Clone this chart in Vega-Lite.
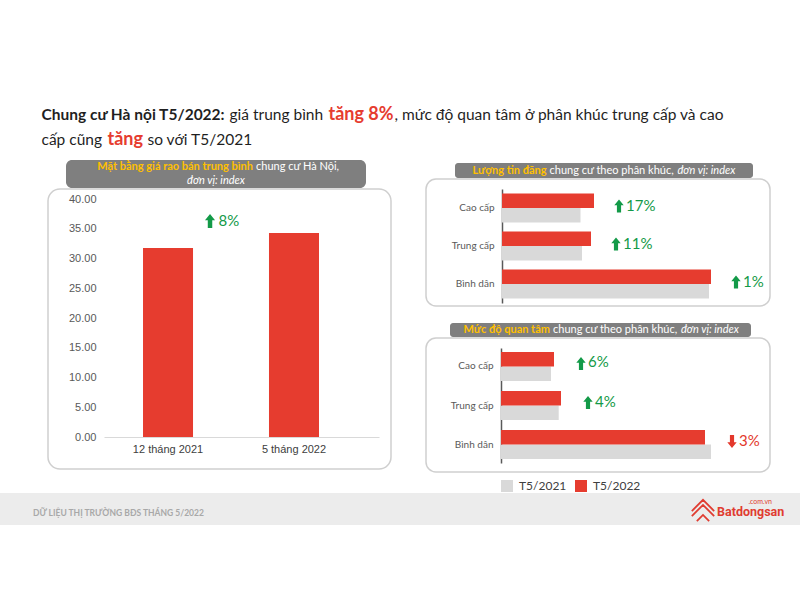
{
  "$schema": "https://vega.github.io/schema/vega-lite/v6.json",
  "background": "white",
  "padding": {"left": 0, "top": 103, "right": 0, "bottom": 0},
  "config": {
    "view": {"stroke": null},
    "font": "Lato",
    "text": {"baseline": "middle"},
    "legend": {"padding": 0},
    "axis": {"grid": false}
  },
  "datasets": {
    "price": [
      {"period": "12 tháng 2021", "value": 31.76},
      {"period": "5 tháng 2022", "value": 34.29}
    ],
    "priceNote": [
      {"period": "12 tháng 2021", "value": 36.3, "change": "8%", "dir": "up"}
    ],
    "listings": [
      {"seg": "Cao cấp", "year": "T5/2021", "value": 78.5},
      {"seg": "Cao cấp", "year": "T5/2022", "value": 92},
      {"seg": "Trung cấp", "year": "T5/2021", "value": 80},
      {"seg": "Trung cấp", "year": "T5/2022", "value": 89},
      {"seg": "Bình dân", "year": "T5/2021", "value": 207},
      {"seg": "Bình dân", "year": "T5/2022", "value": 209}
    ],
    "listingsNote": [
      {"seg": "Cao cấp", "v2022": 92, "change": "17%", "dir": "up"},
      {"seg": "Trung cấp", "v2022": 89, "change": "11%", "dir": "up"},
      {"seg": "Bình dân", "v2022": 209, "change": "1%", "dir": "up"}
    ],
    "interest": [
      {"seg": "Cao cấp", "year": "T5/2021", "value": 50},
      {"seg": "Cao cấp", "year": "T5/2022", "value": 53},
      {"seg": "Trung cấp", "year": "T5/2021", "value": 57.7},
      {"seg": "Trung cấp", "year": "T5/2022", "value": 60},
      {"seg": "Bình dân", "year": "T5/2021", "value": 210},
      {"seg": "Bình dân", "year": "T5/2022", "value": 204}
    ],
    "interestNote": [
      {"seg": "Cao cấp", "v2022": 53, "change": "6%", "dir": "up"},
      {"seg": "Trung cấp", "v2022": 60, "change": "4%", "dir": "up"},
      {"seg": "Bình dân", "v2022": 204, "change": "3%", "dir": "down"}
    ]
  },
  "vconcat": [
    {
      "spacing": 8,
      "vconcat": [
        {
          "spacing": 1,
          "vconcat": [
            {
              "spacing": 0,
              "hconcat": [
                {"width": 41, "height": 24, "data": {"values": []}, "mark": "point"},
                {"width": 1, "height": 24, "data": {"values": [{}]}, "mark": {"type": "text", "text": "Chung cư Hà nội T5/2022:", "align": "left", "font": "Lato", "fontSize": 15.5, "fontWeight": "bold", "color": "#1f1f1f"}},
                {"width": 1, "height": 24, "data": {"values": [{}]}, "mark": {"type": "text", "text": "giá trung bình", "align": "left", "dx": 3, "font": "Lato", "fontSize": 15.5, "color": "#1f1f1f"}},
                {"width": 1, "height": 24, "data": {"values": [{}]}, "mark": {"type": "text", "text": "tăng 8%", "align": "left", "dx": 4, "font": "Lato", "fontSize": 18, "fontWeight": "bold", "color": "#e63c2f"}},
                {"width": 1, "height": 24, "data": {"values": [{}]}, "mark": {"type": "text", "text": ", mức độ quan tâm ở phân khúc trung cấp và cao", "align": "left", "font": "Lato", "fontSize": 15.5, "color": "#1f1f1f"}}
              ]
            },
            {
              "spacing": 0,
              "hconcat": [
                {"width": 41, "height": 24, "data": {"values": []}, "mark": "point"},
                {"width": 1, "height": 24, "data": {"values": [{}]}, "mark": {"type": "text", "text": "cấp cũng", "align": "left", "font": "Lato", "fontSize": 15.5, "color": "#1f1f1f"}},
                {"width": 1, "height": 24, "data": {"values": [{}]}, "mark": {"type": "text", "text": "tăng", "align": "left", "dx": 4, "font": "Lato", "fontSize": 18, "fontWeight": "bold", "color": "#e63c2f"}},
                {"width": 1, "height": 24, "data": {"values": [{}]}, "mark": {"type": "text", "text": "so với T5/2021", "align": "left", "dx": 4, "font": "Lato", "fontSize": 15.5, "color": "#1f1f1f"}}
              ]
            }
          ]
        },
        {
          "spacing": 33,
          "hconcat": [
            {"width": 14, "height": 1, "data": {"values": []}, "mark": "point"},
            {
              "spacing": 0,
              "vconcat": [
                {
                  "spacing": 0,
                  "hconcat": [
                    {"width": 18, "height": 1, "data": {"values": []}, "mark": "point"},
                    {
                      "width": 300,
                      "height": 28,
                      "view": {"fill": "#7f7f7f", "stroke": null, "cornerRadius": 6},
                      "data": {"values": [{}]},
                      "layer": [
                        {"mark": {"type": "text", "text": "Mặt bằng giá rao bán trung bình", "align": "right", "dx": 37, "dy": -7, "font": "Lato", "fontSize": 11, "fontWeight": "bold", "color": "#ffc000"}},
                        {"mark": {"type": "text", "text": "chung cư Hà Nội,", "align": "left", "dx": 40, "dy": -7, "font": "Lato", "fontSize": 11, "color": "#ffffff"}},
                        {"mark": {"type": "text", "text": "đơn vị: index", "align": "center", "dy": 7, "font": "Lato", "fontSize": 11, "fontStyle": "italic", "color": "#ffffff"}}
                      ]
                    }
                  ]
                },
                {
                  "width": 343,
                  "height": 280,
                  "view": {"stroke": "#cfcfcf", "strokeWidth": 1.5, "cornerRadius": 12},
                  "encoding": {
                    "x": {"field": "period", "type": "nominal", "sort": null,
                      "scale": {"range": [56, 331], "paddingInner": 0.603, "paddingOuter": 0.393, "align": 0.394},
                      "axis": {"orient": "bottom", "offset": -32, "domainColor": "#d9d9d9", "domainWidth": 1, "ticks": false, "labelPadding": 6, "labelFont": "Liberation Sans", "labelFontSize": 11, "labelColor": "#404040", "labelAngle": 0, "title": null}},
                    "y": {"field": "value", "type": "quantitative",
                      "scale": {"domain": [0, 40], "range": [248, 10], "nice": false},
                      "axis": {"orient": "left", "offset": -49, "values": [0, 5, 10, 15, 20, 25, 30, 35, 40], "tickCount": 9, "format": ".2f", "labelOverlap": false, "domain": false, "ticks": false, "labelPadding": 1, "labelFont": "Liberation Sans", "labelFontSize": 11, "labelColor": "#595959", "title": null}}
                  },
                  "layer": [
                    {
                      "data": {"name": "price"},
                      "mark": {"type": "bar", "color": "#e63c2f"}
                    },
                    {
                      "data": {"name": "priceNote"},
                      "mark": {"type": "point", "filled": true, "size": 196, "xOffset": 42, "opacity": 1, "strokeWidth": 0},
                      "encoding": {
                        "shape": {"field": "dir", "type": "nominal", "scale": {"domain": ["up", "down"], "range": ["M0,-1 L0.72,-0.12 L0.32,-0.12 L0.32,1 L-0.32,1 L-0.32,-0.12 L-0.72,-0.12 Z", "M0,1 L0.72,0.12 L0.32,0.12 L0.32,-1 L-0.32,-1 L-0.32,0.12 L-0.72,0.12 Z"]}, "legend": null},
                        "fill": {"field": "dir", "type": "nominal", "scale": {"domain": ["up", "down"], "range": ["#139a48", "#e3382c"]}, "legend": null}
                      }
                    },
                    {
                      "data": {"name": "priceNote"},
                      "mark": {"type": "text", "align": "left", "baseline": "middle", "dx": 50.5, "font": "Lato", "fontSize": 15},
                      "encoding": {
                        "text": {"field": "change"},
                        "fill": {"field": "dir", "type": "nominal", "scale": {"domain": ["up", "down"], "range": ["#139a48", "#e3382c"]}, "legend": null}
                      }
                    }
                  ]
                }
              ]
            },
            {
              "spacing": 2,
              "vconcat": [
                {"width": 1, "height": 1, "data": {"values": []}, "mark": "point"},
                {
                  "spacing": 16,
                  "resolve": {"scale": {"color": "independent"}, "legend": {"color": "independent"}},
                  "vconcat": [
                    {
                      "spacing": 0,
                      "resolve": {"scale": {"color": "independent"}, "legend": {"color": "independent"}},
                      "vconcat": [
                        {
                          "spacing": 0,
                          "hconcat": [
                            {"width": 29, "height": 1, "data": {"values": []}, "mark": "point"},
                            {
                              "width": 298,
                              "height": 15,
                              "view": {"fill": "#7f7f7f", "stroke": null, "cornerRadius": 3},
                              "data": {"values": [{}]},
                              "layer": [
                                {"mark": {"type": "text", "text": "Lượng tin đăng", "align": "right", "dx": -57.5, "font": "Lato", "fontSize": 11, "fontWeight": "bold", "color": "#ffc000"}},
                                {"mark": {"type": "text", "text": "chung cư theo phân khúc,", "align": "left", "dx": -54.5, "font": "Lato", "fontSize": 11, "color": "#ffffff"}},
                                {"mark": {"type": "text", "text": "đơn vị: index", "align": "left", "dx": 73.5, "font": "Lato", "fontSize": 11, "fontStyle": "italic", "color": "#ffffff"}}
                              ]
                            }
                          ]
                        },
                        {
                          "width": 344,
                          "height": 127,
                          "view": {"stroke": "#cfcfcf", "strokeWidth": 1.5, "cornerRadius": 10},
                          "layer": [
                            {
                              "data": {"name": "listings"},
                              "mark": {"type": "bar"},
                              "encoding": {
                                "y": {"field": "seg", "type": "nominal",
                                  "scale": {"domain": ["Cao cấp", "Trung cấp", "Bình dân"], "range": [10, 124], "paddingInner": 0.237, "paddingOuter": 0.118},
                                  "axis": {"orient": "left", "offset": -76, "domainColor": "#595959", "domainWidth": 1.5, "ticks": false, "labelPadding": 8, "labelFont": "Lato", "labelFontSize": 10, "labelColor": "#595959", "title": null}},
                                "yOffset": {"field": "year", "type": "nominal", "scale": {"domain": ["T5/2022", "T5/2021"], "paddingInner": 0, "paddingOuter": 0}},
                                "x": {"field": "value", "type": "quantitative", "scale": {"domain": [0, 260], "range": [76, 336], "nice": false}, "axis": null},
                                "color": {"field": "year", "type": "nominal", "scale": {"domain": ["T5/2021", "T5/2022"], "range": ["#d9d9d9", "#e63c2f"]}, "legend": null}
                              }
                            },
                            {
                              "data": {"name": "listingsNote"},
                              "mark": {"type": "point", "filled": true, "size": 170, "xOffset": 25, "yOffset": -2, "opacity": 1, "strokeWidth": 0},
                              "encoding": {
                                "y": {"field": "seg", "type": "nominal", "scale": {"domain": ["Cao cấp", "Trung cấp", "Bình dân"], "range": [10, 124], "paddingInner": 0.237, "paddingOuter": 0.118}},
                                "x": {"field": "v2022", "type": "quantitative", "scale": {"domain": [0, 260], "range": [76, 336], "nice": false}},
                                "shape": {"field": "dir", "type": "nominal", "scale": {"domain": ["up", "down"], "range": ["M0,-1 L0.72,-0.12 L0.32,-0.12 L0.32,1 L-0.32,1 L-0.32,-0.12 L-0.72,-0.12 Z", "M0,1 L0.72,0.12 L0.32,0.12 L0.32,-1 L-0.32,-1 L-0.32,0.12 L-0.72,0.12 Z"]}, "legend": null},
                                "fill": {"field": "dir", "type": "nominal", "scale": {"domain": ["up", "down"], "range": ["#139a48", "#e3382c"]}, "legend": null}
                              }
                            },
                            {
                              "data": {"name": "listingsNote"},
                              "mark": {"type": "text", "align": "left", "baseline": "middle", "dx": 32, "dy": -2, "font": "Lato", "fontSize": 15},
                              "encoding": {
                                "y": {"field": "seg", "type": "nominal", "scale": {"domain": ["Cao cấp", "Trung cấp", "Bình dân"], "range": [10, 124], "paddingInner": 0.237, "paddingOuter": 0.118}},
                                "x": {"field": "v2022", "type": "quantitative", "scale": {"domain": [0, 260], "range": [76, 336], "nice": false}},
                                "text": {"field": "change"},
                                "fill": {"field": "dir", "type": "nominal", "scale": {"domain": ["up", "down"], "range": ["#139a48", "#e3382c"]}, "legend": null}
                              }
                            }
                          ]
                        }
                      ]
                    },
                    {
                      "spacing": 0,
                      "resolve": {"scale": {"color": "independent"}, "legend": {"color": "independent"}},
                      "vconcat": [
                        {
                          "spacing": 0,
                          "hconcat": [
                            {"width": 24, "height": 1, "data": {"values": []}, "mark": "point"},
                            {
                              "width": 301,
                              "height": 14,
                              "view": {"fill": "#7f7f7f", "stroke": null, "cornerRadius": 3},
                              "data": {"values": [{}]},
                              "layer": [
                                {"mark": {"type": "text", "text": "Mức độ quan tâm", "align": "right", "dx": -50.5, "font": "Lato", "fontSize": 11, "fontWeight": "bold", "color": "#ffc000"}},
                                {"mark": {"type": "text", "text": "chung cư theo phân khúc,", "align": "left", "dx": -47.5, "font": "Lato", "fontSize": 11, "color": "#ffffff"}},
                                {"mark": {"type": "text", "text": "đơn vị: index", "align": "left", "dx": 80.5, "font": "Lato", "fontSize": 11, "fontStyle": "italic", "color": "#ffffff"}}
                              ]
                            }
                          ]
                        },
                        {
                          "width": 344,
                          "height": 134,
                          "view": {"stroke": "#cfcfcf", "strokeWidth": 1.5, "cornerRadius": 10},
                          "layer": [
                            {
                              "data": {"name": "interest"},
                              "mark": {"type": "bar"},
                              "encoding": {
                                "y": {"field": "seg", "type": "nominal",
                                  "scale": {"domain": ["Cao cấp", "Trung cấp", "Bình dân"], "range": [10, 125], "paddingInner": 0.256, "paddingOuter": 0.1},
                                  "axis": {"orient": "left", "offset": -75, "domainColor": "#595959", "domainWidth": 1.5, "ticks": false, "labelPadding": 8, "labelFont": "Lato", "labelFontSize": 10, "labelColor": "#595959", "title": null}},
                                "yOffset": {"field": "year", "type": "nominal", "scale": {"domain": ["T5/2022", "T5/2021"], "paddingInner": 0, "paddingOuter": 0}},
                                "x": {"field": "value", "type": "quantitative", "scale": {"domain": [0, 260], "range": [75, 335], "nice": false}, "axis": null},
                                "color": {"field": "year", "type": "nominal", "scale": {"domain": ["T5/2021", "T5/2022"], "range": ["#d9d9d9", "#e63c2f"]},
                                  "legend": {"orient": "none", "legendX": 75, "legendY": 142, "direction": "horizontal", "title": null, "symbolType": "square", "symbolSize": 144, "symbolStrokeWidth": 0, "symbolOpacity": 1, "labelFont": "Lato", "labelFontSize": 12, "labelColor": "#404040", "columnPadding": 8, "labelOffset": 6,
                                    "encode": {"symbols": {"update": {"fill": [{"test": "datum.value === 'T5/2021'", "value": "#a6a6a6"}, {"value": "#e63c2f"}]}}}}}
                              }
                            },
                            {
                              "data": {"name": "interestNote"},
                              "mark": {"type": "point", "filled": true, "size": 170, "xOffset": 27, "yOffset": -3, "opacity": 1, "strokeWidth": 0},
                              "encoding": {
                                "y": {"field": "seg", "type": "nominal", "scale": {"domain": ["Cao cấp", "Trung cấp", "Bình dân"], "range": [10, 125], "paddingInner": 0.256, "paddingOuter": 0.1}},
                                "x": {"field": "v2022", "type": "quantitative", "scale": {"domain": [0, 260], "range": [75, 335], "nice": false}},
                                "shape": {"field": "dir", "type": "nominal", "scale": {"domain": ["up", "down"], "range": ["M0,-1 L0.72,-0.12 L0.32,-0.12 L0.32,1 L-0.32,1 L-0.32,-0.12 L-0.72,-0.12 Z", "M0,1 L0.72,0.12 L0.32,0.12 L0.32,-1 L-0.32,-1 L-0.32,0.12 L-0.72,0.12 Z"]}, "legend": null},
                                "fill": {"field": "dir", "type": "nominal", "scale": {"domain": ["up", "down"], "range": ["#139a48", "#e3382c"]}, "legend": null}
                              }
                            },
                            {
                              "data": {"name": "interestNote"},
                              "mark": {"type": "text", "align": "left", "baseline": "middle", "dx": 34, "dy": -4, "font": "Lato", "fontSize": 15},
                              "encoding": {
                                "y": {"field": "seg", "type": "nominal", "scale": {"domain": ["Cao cấp", "Trung cấp", "Bình dân"], "range": [10, 125], "paddingInner": 0.256, "paddingOuter": 0.1}},
                                "x": {"field": "v2022", "type": "quantitative", "scale": {"domain": [0, 260], "range": [75, 335], "nice": false}},
                                "text": {"field": "change"},
                                "fill": {"field": "dir", "type": "nominal", "scale": {"domain": ["up", "down"], "range": ["#139a48", "#e3382c"]}, "legend": null}
                              }
                            }
                          ]
                        }
                      ]
                    }
                  ]
                }
              ]
            }
          ]
        }
      ]
    },
    {
      "width": 800,
      "height": 32,
      "view": {"fill": "#ececec", "stroke": null},
      "data": {"values": [{}]},
      "layer": [
        {"mark": {"type": "text", "text": "DỮ LIỆU THỊ TRƯỜNG BĐS THÁNG 5/2022", "align": "left", "dx": -367, "dy": 3.5, "font": "Lato", "fontSize": 8.5, "fontWeight": "bold", "color": "#a8a8a8"}},
        {"mark": {"type": "text", "text": "Batdongsan", "align": "left", "dx": 317, "dy": 3, "font": "Roboto", "fontSize": 12.5, "fontWeight": "bold", "color": "#e03c31"}},
        {"mark": {"type": "text", "text": ".com.vn", "align": "right", "dx": 372, "dy": -7, "font": "Lato", "fontSize": 7, "color": "#e03c31"}},
        {"mark": {"type": "point", "shape": "M-1,0.05 L0,-0.95 L1,0.05 M-1,0.5 L0,-0.5 L1,0.5 M-0.55,0.95 L0,0.4 L0.55,0.95", "size": 500, "strokeWidth": 1.8, "color": "#e03c31", "filled": false, "opacity": 1, "xOffset": 303, "yOffset": 1.5}}
      ]
    }
  ],
  "spacing": 0
}
